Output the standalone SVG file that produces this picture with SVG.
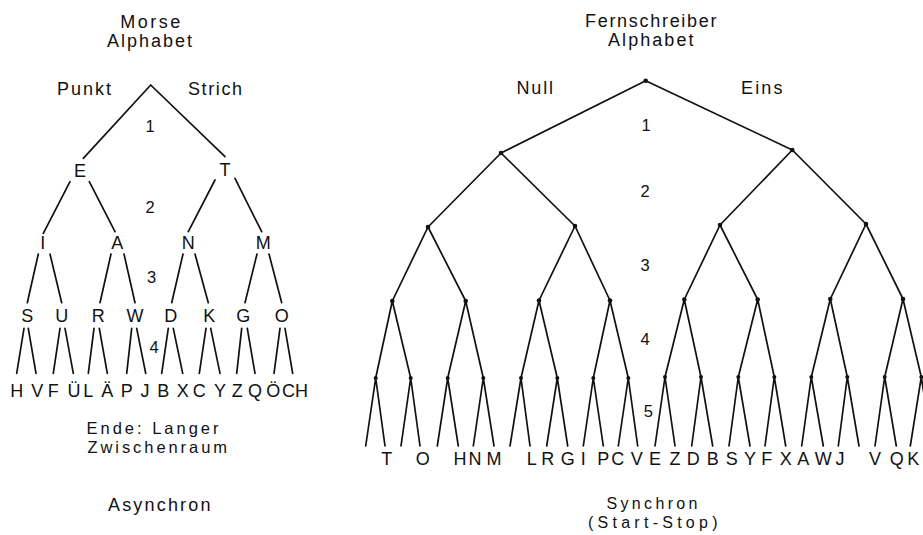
<svg xmlns="http://www.w3.org/2000/svg" width="923" height="535" viewBox="0 0 923 535">
<style>
.bg{fill:#ffffff}
text{font-family:"Liberation Sans","DejaVu Sans",Arial,sans-serif;fill:#111111}
.t{font-size:18px}
.s{font-size:16.5px}
.u{font-size:16px}
.c{text-anchor:middle}
.n{font-size:16.5px;text-anchor:middle}
.e{fill:none;stroke:#111111;stroke-width:1.7;stroke-linecap:round}
.d{fill:#111111}
</style>
<rect class="bg" x="0" y="0" width="923" height="535"/>

<!-- ===== Connectors ===== -->
<g id="connectors" class="e">
  <!-- Morse tree -->
  <path d="M150.7 85 L83.3 158.3 M150.7 85 L225 156.7"/>
  <path d="M70 181.7 L43.3 233.3 M89.3 181.7 L115 231.7 M215 180 L188.3 231.7 M235 178.3 L261.7 231.7"/>
  <path d="M38.3 254 L27.3 302.7 M50 254 L61.7 302.7 M111 254 L100 302.7 M124 254 L135 302.7 M183 254 L171.7 302.7 M195 254 L208.3 302.7 M257 254 L245 302.7 M269 254 L281.7 302.7"/>
  <path d="M24 328.3 L16.7 373.3 M28.3 328.3 L36 373.3 M60 328.3 L53.3 373.3 M65 328.3 L73.3 373.3 M94 328.3 L88.3 373.3 M99.3 328.3 L107.3 373.3 M131.7 328.3 L126.7 373.3 M136.7 328.3 L145.7 373.3 M168.3 328.3 L161.7 373.3 M173.3 328.3 L182.7 373.3 M206 328.3 L199.3 373.3 M210.7 328.3 L220 373.3 M241.7 328.3 L236.7 373.3 M247.3 328.3 L255 373.3 M280 328.3 L274 373.3 M285 328.3 L292.7 373.3"/>
  <!-- Fernschreiber tree -->
  <path d="M645.7 80.7 L501 153 M645.7 80.7 L792.3 150"/>
  <path d="M501 153 L428 227 M501 153 L575 226 M792.3 150 L720 225 M792.3 150 L866 224"/>
  <path d="M428 227 L392.3 301 M428 227 L465.7 301 M575 226 L539 300.5 M575 226 L610 300.5 M720 225 L684.3 299.5 M720 225 L757.7 299.5 M866 224 L830.3 299 M866 224 L903 299"/>
  <path d="M392.3 301 L375.7 378 M392.3 301 L410.7 378 M465.7 301 L447.7 378 M465.7 301 L483.3 378 M539 300.5 L521 378 M539 300.5 L557.3 378 M610 300.5 L593.3 378 M610 300.5 L628.3 378 M684.3 299.5 L665 377 M684.3 299.5 L701 377 M757.7 299.5 L738.3 377 M757.7 299.5 L774.3 377 M830.3 299 L811.3 377 M830.3 299 L847.3 377 M903 299 L884.7 377 M903 299 L921.3 377"/>
  <path d="M375.7 378 L365.7 446 M375.7 378 L385 446 M410.7 378 L401 446 M410.7 378 L420 446 M447.7 378 L437.3 446 M447.7 378 L458.3 446 M483.3 378 L473.3 446 M483.3 378 L494 446 M521 378 L510 446 M521 378 L530 446 M557.3 378 L546.7 446 M557.3 378 L567.7 446 M593.3 378 L583.3 446 M593.3 378 L603.3 446 M628.3 378 L618.3 446 M628.3 378 L637.7 446"/>
  <path d="M665 377 L655 446 M665 377 L675 446 M701 377 L691.7 446 M701 377 L712.7 446 M738.3 377 L729 446 M738.3 377 L750 446 M774.3 377 L765 446 M774.3 377 L785.7 446 M811.3 377 L801.7 446 M811.3 377 L823.3 446 M847.3 377 L838.3 446 M847.3 377 L859 446 M884.7 377 L875 446 M884.7 377 L896.3 446 M921.3 377 L910.3 446 M921.3 377 L932 446"/>
</g>

<!-- ===== Morse tree: titles and labels ===== -->
<g id="morse-title">
  <text class="t" x="120.2" y="28.3" textLength="60" lengthAdjust="spacing">Morse</text>
  <text class="t" x="107" y="47" textLength="85" lengthAdjust="spacing">Alphabet</text>
</g>
<g id="morse-punkt"><text class="t" x="57" y="95" textLength="54" lengthAdjust="spacing">Punkt</text></g>
<g id="morse-strich"><text class="t" x="188" y="95" textLength="54" lengthAdjust="spacing">Strich</text></g>
<g id="morse-levels">
  <text class="n" x="150" y="131.5">1</text>
  <text class="n" x="150" y="213.3">2</text>
  <text class="n" x="151.7" y="282.7">3</text>
  <text class="n" x="154" y="352.7">4</text>
</g>
<g id="m-E"><text class="t c" x="80" y="176.7">E</text></g>
<g id="m-T"><text class="t c" x="225" y="176.3">T</text></g>
<g id="m-I"><text class="t c" x="42.7" y="249.3">I</text></g>
<g id="m-A"><text class="t c" x="117.3" y="249.3">A</text></g>
<g id="m-N"><text class="t c" x="188.3" y="249.3">N</text></g>
<g id="m-M"><text class="t c" x="263.3" y="249.3">M</text></g>
<g id="m-S"><text class="t c" x="27.3" y="321.7">S</text></g>
<g id="m-U"><text class="t c" x="61.7" y="321.7">U</text></g>
<g id="m-R"><text class="t c" x="98.3" y="321.7">R</text></g>
<g id="m-W"><text class="t c" x="135" y="321.7">W</text></g>
<g id="m-D"><text class="t c" x="170.7" y="321.7">D</text></g>
<g id="m-K"><text class="t c" x="209.3" y="321.7">K</text></g>
<g id="m-G"><text class="t c" x="243.3" y="321.7">G</text></g>
<g id="m-O"><text class="t c" x="281.7" y="321.7">O</text></g>
<g id="m-H"><text class="t c" x="16.7" y="396.7">H</text></g>
<g id="m-V"><text class="t c" x="37.3" y="396.7">V</text></g>
<g id="m-F"><text class="t c" x="53.3" y="396.7">F</text></g>
<g id="m-UE"><text class="t c" x="74" y="396.7">Ü</text></g>
<g id="m-L"><text class="t c" x="88.3" y="396.7">L</text></g>
<g id="m-AE"><text class="t c" x="107.3" y="396.7">Ä</text></g>
<g id="m-P"><text class="t c" x="126.7" y="396.7">P</text></g>
<g id="m-J"><text class="t c" x="145" y="396.7">J</text></g>
<g id="m-B"><text class="t c" x="163.3" y="396.7">B</text></g>
<g id="m-X"><text class="t c" x="182.7" y="396.7">X</text></g>
<g id="m-C"><text class="t c" x="199.3" y="396.7">C</text></g>
<g id="m-Y"><text class="t c" x="220" y="396.7">Y</text></g>
<g id="m-Z"><text class="t c" x="237.3" y="396.7">Z</text></g>
<g id="m-Q"><text class="t c" x="255" y="396.7">Q</text></g>
<g id="m-OE"><text class="t c" x="273.3" y="396.7">Ö</text></g>
<g id="m-CH"><text class="t c" x="295" y="396.7">CH</text></g>
<g id="morse-ende">
  <text class="s" x="86.5" y="433.5" textLength="132" lengthAdjust="spacing">Ende: Langer</text>
  <text class="s" x="87.5" y="452.5" textLength="139.5" lengthAdjust="spacing">Zwischenraum</text>
</g>
<g id="morse-asynchron"><text class="t" x="108" y="510.5" textLength="102.5" lengthAdjust="spacing">Asynchron</text></g>

<!-- ===== Fernschreiber tree ===== -->
<g id="fs-title">
  <text class="t" x="585" y="26.5" textLength="131.5" lengthAdjust="spacing">Fernschreiber</text>
  <text class="t" x="608" y="45.5" textLength="85.5" lengthAdjust="spacing">Alphabet</text>
</g>
<g id="fs-null"><text class="t" x="516.5" y="94" textLength="36.5" lengthAdjust="spacing">Null</text></g>
<g id="fs-eins"><text class="t" x="741" y="93.5" textLength="41.5" lengthAdjust="spacing">Eins</text></g>
<g id="fs-levels">
  <text class="n" x="646" y="130.5">1</text>
  <text class="n" x="645" y="197">2</text>
  <text class="n" x="645" y="271">3</text>
  <text class="n" x="645" y="345">4</text>
  <text class="n" x="648.3" y="416.7">5</text>
</g>
<g id="fs-root"><circle class="d" cx="645.7" cy="80.7" r="2.3"/></g>
<g id="fs-0"><circle class="d" cx="501" cy="153" r="2.3"/></g>
<g id="fs-1"><circle class="d" cx="792.3" cy="150" r="2.3"/></g>
<g id="fs-00"><circle class="d" cx="428" cy="227" r="2.3"/></g>
<g id="fs-01"><circle class="d" cx="575" cy="226" r="2.3"/></g>
<g id="fs-10"><circle class="d" cx="720" cy="225" r="2.3"/></g>
<g id="fs-11"><circle class="d" cx="866" cy="224" r="2.3"/></g>
<g id="fs-000"><circle class="d" cx="392.3" cy="301" r="2.3"/></g>
<g id="fs-001"><circle class="d" cx="465.7" cy="301" r="2.3"/></g>
<g id="fs-010"><circle class="d" cx="539" cy="300.5" r="2.3"/></g>
<g id="fs-011"><circle class="d" cx="610" cy="300.5" r="2.3"/></g>
<g id="fs-100"><circle class="d" cx="684.3" cy="299.5" r="2.3"/></g>
<g id="fs-101"><circle class="d" cx="757.7" cy="299.5" r="2.3"/></g>
<g id="fs-110"><circle class="d" cx="830.3" cy="299" r="2.3"/></g>
<g id="fs-111"><circle class="d" cx="903" cy="299" r="2.3"/></g>
<g id="fs-0000"><circle class="d" cx="375.7" cy="378" r="2"/></g>
<g id="fs-0001"><circle class="d" cx="410.7" cy="378" r="2"/></g>
<g id="fs-0010"><circle class="d" cx="447.7" cy="378" r="2"/></g>
<g id="fs-0011"><circle class="d" cx="483.3" cy="378" r="2"/></g>
<g id="fs-0100"><circle class="d" cx="521" cy="378" r="2"/></g>
<g id="fs-0101"><circle class="d" cx="557.3" cy="378" r="2"/></g>
<g id="fs-0110"><circle class="d" cx="593.3" cy="378" r="2"/></g>
<g id="fs-0111"><circle class="d" cx="628.3" cy="378" r="2"/></g>
<g id="fs-1000"><circle class="d" cx="665" cy="377" r="2"/></g>
<g id="fs-1001"><circle class="d" cx="701" cy="377" r="2"/></g>
<g id="fs-1010"><circle class="d" cx="738.3" cy="377" r="2"/></g>
<g id="fs-1011"><circle class="d" cx="774.3" cy="377" r="2"/></g>
<g id="fs-1100"><circle class="d" cx="811.3" cy="377" r="2"/></g>
<g id="fs-1101"><circle class="d" cx="847.3" cy="377" r="2"/></g>
<g id="fs-1110"><circle class="d" cx="884.7" cy="377" r="2"/></g>
<g id="fs-1111"><circle class="d" cx="921.3" cy="377" r="2"/></g>
<g id="fs-T"><text class="t c" x="386.7" y="465">T</text></g>
<g id="fs-O"><text class="t c" x="422.7" y="465">O</text></g>
<g id="fs-H"><text class="t c" x="460" y="465">H</text></g>
<g id="fs-N"><text class="t c" x="475" y="465">N</text></g>
<g id="fs-M"><text class="t c" x="494" y="465">M</text></g>
<g id="fs-L"><text class="t c" x="531.7" y="465">L</text></g>
<g id="fs-R"><text class="t c" x="547.7" y="465">R</text></g>
<g id="fs-G"><text class="t c" x="567.7" y="465">G</text></g>
<g id="fs-I"><text class="t c" x="583.3" y="465">I</text></g>
<g id="fs-P"><text class="t c" x="603.3" y="465">P</text></g>
<g id="fs-C"><text class="t c" x="617.7" y="465">C</text></g>
<g id="fs-V1"><text class="t c" x="636.7" y="465">V</text></g>
<g id="fs-E"><text class="t c" x="655" y="465">E</text></g>
<g id="fs-Z"><text class="t c" x="675" y="465">Z</text></g>
<g id="fs-D"><text class="t c" x="693.3" y="465">D</text></g>
<g id="fs-B"><text class="t c" x="712.7" y="465">B</text></g>
<g id="fs-S"><text class="t c" x="731.7" y="465">S</text></g>
<g id="fs-Y"><text class="t c" x="750" y="465">Y</text></g>
<g id="fs-F"><text class="t c" x="766.7" y="465">F</text></g>
<g id="fs-X"><text class="t c" x="785.7" y="465">X</text></g>
<g id="fs-A"><text class="t c" x="803.3" y="465">A</text></g>
<g id="fs-W"><text class="t c" x="823.3" y="465">W</text></g>
<g id="fs-J"><text class="t c" x="840" y="465">J</text></g>
<g id="fs-V2"><text class="t c" x="875" y="465">V</text></g>
<g id="fs-Q"><text class="t c" x="896.7" y="465">Q</text></g>
<g id="fs-K"><text class="t c" x="913.3" y="465">K</text></g>
<g id="fs-synchron">
  <text class="u" x="606.5" y="508.5" textLength="91" lengthAdjust="spacing">Synchron</text>
  <text class="u" x="588" y="527.5" textLength="129.5" lengthAdjust="spacing">(Start-Stop)</text>
</g>
</svg>
